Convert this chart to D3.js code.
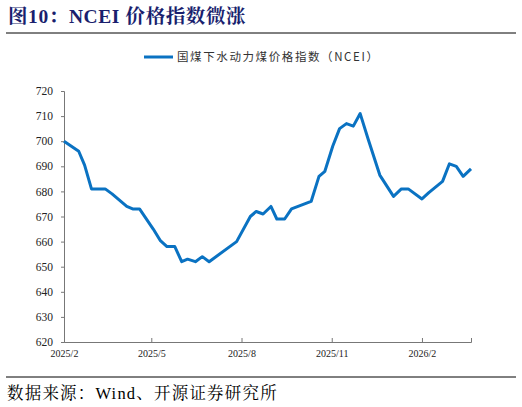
<!DOCTYPE html><html><head><meta charset="utf-8">
<script src="https://cdn.jsdelivr.net/npm/d3@7"></script>
<style>body{margin:0;background:#fff}</style></head><body><svg id="c" width="522" height="407"></svg>
<script>
const dates=["2025-02-01","2025-02-16","2025-02-22","2025-03-01","2025-03-15","2025-03-22","2025-04-06","2025-04-12","2025-04-19","2025-05-03","2025-05-10","2025-05-17","2025-05-25","2025-06-01","2025-06-07","2025-06-15","2025-06-22","2025-06-29","2025-07-27","2025-08-10","2025-08-16","2025-08-23","2025-08-31","2025-09-06","2025-09-14","2025-09-21","2025-10-11","2025-10-19","2025-10-25","2025-11-02","2025-11-09","2025-11-16","2025-11-23","2025-11-30","2025-12-08","2025-12-20","2026-01-03","2026-01-11","2026-01-18","2026-02-01","2026-02-08","2026-02-22","2026-03-01","2026-03-08","2026-03-15","2026-03-23"];
const values=[700,696,690.5,681,681,679,674,673,673,665,660.5,658,658,652,653,652,654,652,660,670,672,671,674,669,669,673,676,686,688,698,705,707,706,711,701,686.5,678,681,681,677,679.5,684,691,690,686,689];
const xTicks=["2025-02-01","2025-05-01","2025-08-01","2025-11-01","2026-02-01"];
const xTickLabels=["2025/2","2025/5","2025/8","2025/11","2026/2"];
const yTicks=[620,630,640,650,660,670,680,690,700,710,720];
const seriesName="国煤下水动力煤价格指数（NCEI）";
const P=d3.timeParse("%Y-%m-%d");
const svg=d3.select("#c");
const serif="'Liberation Serif','DejaVu Serif',serif";
const cjkSerif="'Liberation Serif','Noto Serif CJK SC','Noto Sans CJK SC',serif";
svg.append("text").attr("x",8).attr("y",23).attr("fill","#1a1f6e").attr("font-weight","bold").attr("font-size",19.5).attr("letter-spacing",0.6).attr("font-family",cjkSerif).text("图10：NCEI 价格指数微涨");
svg.append("line").attr("x1",6).attr("x2",516).attr("y1",33).attr("y2",33).attr("stroke","#000").attr("stroke-width",1);
svg.append("line").attr("x1",6).attr("x2",516).attr("y1",377).attr("y2",377).attr("stroke","#000").attr("stroke-width",1);
svg.append("text").attr("x",7).attr("y",399).attr("font-size",16.5).attr("letter-spacing",1.2).attr("font-family",cjkSerif).attr("fill","#000").text("数据来源：Wind、开源证券研究所");
const x=d3.scaleTime().domain([P("2025-02-01"),P("2026-03-23")]).range([64,471]);
const y=d3.scaleLinear().domain([620,720]).range([342,91]);
svg.append("line").attr("x1",144).attr("x2",173).attr("y1",57).attr("y2",57).attr("stroke","#0a72c2").attr("stroke-width",3);
svg.append("text").attr("x",177).attr("y",61).attr("font-size",11.5).attr("letter-spacing",1.6).attr("font-family","'Noto Sans CJK SC',sans-serif").attr("fill","#333").text(seriesName);
const ya=svg.append("g").attr("transform","translate(64,0)").call(d3.axisLeft(y).tickValues(yTicks).tickSize(3).tickPadding(8).tickFormat(d3.format("d")));
ya.selectAll("text").attr("font-family",serif).attr("font-size",11.5).attr("fill","#222");
const xa=svg.append("g").attr("transform","translate(0,342)").call(d3.axisBottom(x).tickValues(xTicks.map(P)).tickSize(-4).tickPadding(6).tickFormat((d,i)=>xTickLabels[i]));
xa.selectAll("text").attr("font-family",serif).attr("font-size",10).attr("fill","#222").attr("dy","0.9em");
svg.selectAll(".domain,.tick line").attr("stroke","#777");
const data=dates.map((d,i)=>({d:P(d),v:values[i]}));
svg.append("path").datum(data).attr("fill","none").attr("stroke","#0a72c2").attr("stroke-width",3).attr("stroke-linejoin","round")
 .attr("d",d3.line().x(d=>x(d.d)).y(d=>y(d.v)));
</script></body></html>
